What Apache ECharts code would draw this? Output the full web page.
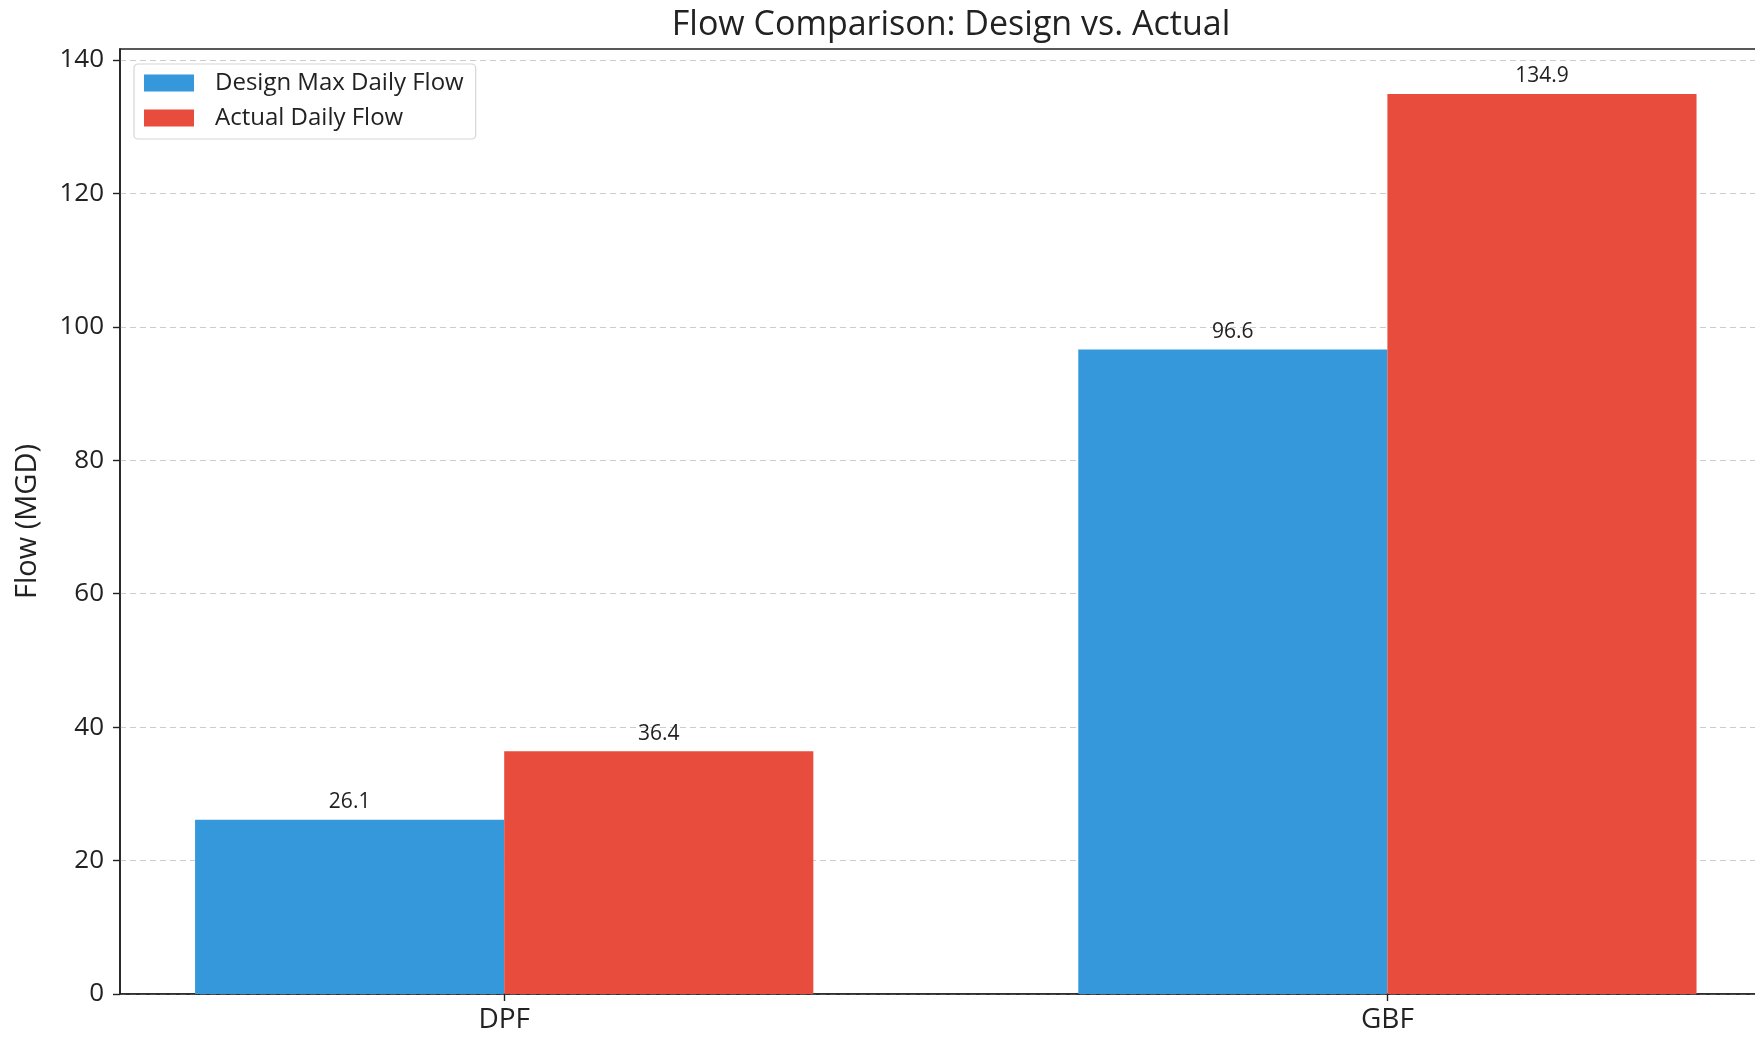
<!DOCTYPE html>
<html>
<head>
<meta charset="utf-8">
<script src="https://cdn.jsdelivr.net/npm/echarts@6/dist/echarts.min.js"></script>
<style>
html,body{margin:0;padding:0;background:#fff;}
#chart{width:1755px;height:1039px;}
</style>
</head>
<body>
<div id="chart"></div>
<script>
const categories = ['DPF', 'GBF'];
const designMax = [26.1, 96.6];
const actual = [36.4, 134.9];
const seriesNames = ['Design Max Daily Flow', 'Actual Daily Flow'];
const yTicks = [0, 20, 40, 60, 80, 100, 120, 140];

const FONT = '"Open Sans", "DejaVu Sans", sans-serif';
const barWidthUnits = 0.35;
const span = categories.length - 1 + 2 * barWidthUnits;
const xMin = -barWidthUnits - 0.05 * span;
const xMax = categories.length - 1 + barWidthUnits + 0.05 * span;
const yMax = Math.max(...designMax, ...actual) * 1.05;

const catIdx = categories.map((c, i) => i);
const blueData = designMax.map((v, i) => [i - barWidthUnits / 2, v]);
const redData = actual.map((v, i) => [i + barWidthUnits / 2, v]);

const chart = echarts.init(document.getElementById('chart'), null, {renderer: 'canvas'});
const gridLeft = 120, plotW = 1651.6;
const barPx = barWidthUnits * plotW / (xMax - xMin);

const labelCfg = {
  show: true, position: 'top', distance: 7,
  color: '#222', fontFamily: FONT, fontSize: 21,
  formatter: p => p.value[1].toFixed(1)
};

chart.setOption({
  animation: false,
  backgroundColor: '#fff',
  title: {
    text: 'Flow Comparison: Design vs. Actual',
    left: 946, top: 3, textAlign: 'center',
    textStyle: {fontFamily: FONT, fontSize: 34, fontWeight: 'normal', color: '#222'}
  },
  legend: {
    orient: 'vertical', left: 134, top: 64,
    data: seriesNames,
    icon: 'rect', itemWidth: 50, itemHeight: 17, itemGap: 11,
    padding: [7, 12, 9, 10],
    borderColor: '#d5d5d5', borderWidth: 1.2, borderRadius: 4,
    backgroundColor: 'rgba(255,255,255,0.85)',
    textStyle: {fontFamily: FONT, fontSize: 24, color: '#222', padding: [0, 0, 0, 16]}
  },
  grid: {
    left: gridLeft, width: plotW, top: 49, bottom: 45,
    outerBoundsMode: 'none', containLabel: false,
    show: true, borderColor: '#222', borderWidth: 1.6, backgroundColor: 'transparent'
  },
  xAxis: {
    type: 'value', min: xMin, max: xMax,
    splitLine: {show: false},
    axisLine: {show: true, onZero: false, lineStyle: {color: '#222', width: 1.6}},
    axisTick: {show: true, customValues: catIdx, length: 7, lineStyle: {color: '#222', width: 1.4}},
    axisLabel: {
      customValues: catIdx, margin: 12,
      fontFamily: FONT, fontSize: 28, color: '#222',
      formatter: v => categories[Math.round(v)]
    }
  },
  yAxis: {
    type: 'value', min: 0, max: yMax,
    name: 'Flow (MGD)', nameLocation: 'middle', nameGap: 78, nameRotate: 90,
    nameTextStyle: {fontFamily: FONT, fontSize: 29, color: '#222'},
    axisLine: {show: true, onZero: false, lineStyle: {color: '#222', width: 1.6}},
    axisTick: {show: true, customValues: yTicks, length: 7, lineStyle: {color: '#222', width: 1.4}},
    axisLabel: {
      customValues: yTicks, margin: 16,
      fontFamily: FONT, fontSize: 26, color: '#222'
    },
    interval: 20,
    splitLine: {show: true, lineStyle: {color: '#cccccc', type: [6, 4], width: 1.2}}
  },
  series: [
    {
      name: seriesNames[0], type: 'bar', data: blueData,
      barWidth: barPx, barGap: '-100%',
      itemStyle: {color: '#3498db'},
      label: labelCfg
    },
    {
      name: seriesNames[1], type: 'bar', data: redData,
      barWidth: barPx, barGap: '-100%',
      itemStyle: {color: '#e74c3c'},
      label: labelCfg
    }
  ]
});
</script>
</body>
</html>
